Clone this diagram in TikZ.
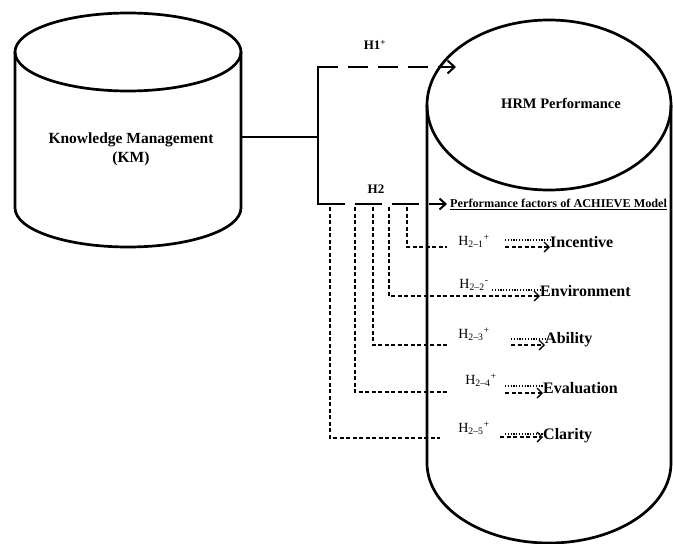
\documentclass[tikz,border=0pt]{standalone}
\usepackage{fontspec}
\setmainfont{Liberation Serif}
\usetikzlibrary{arrows.meta}

\tikzset{
  thickline/.style={line width=2.7pt},
  bigdash/.style={line width=2.7pt, dash pattern=on 20pt off 10pt},
  smalldash/.style={line width=1.4pt, dash pattern=on 4pt off 2.5pt},
  dotline/.style={line width=1.1pt, dash pattern=on 1.2pt off 1.6pt},
  lbl/.style={font=\bfseries, inner sep=0pt},
  hyp/.style={font=\fontsize{14}{16}\selectfont, inner sep=0pt},
  fac/.style={font=\fontsize{16}{18}\selectfont\bfseries, inner sep=0pt, anchor=west}
}

\begin{document}
\begin{tikzpicture}[x=1pt, y=-1pt]

  \useasboundingbox (0, 0) rectangle (673, 544);

  % Knowledge Management cylinder
  \draw [thickline] (128, 52) ellipse [x radius=113pt, y radius=39pt];
  \draw [thickline] (15, 52) -- (15, 208) arc [start angle=180, end angle=360, x radius=113pt, y radius=39pt] -- (241, 52);
  \node[lbl, align=center, font=\fontsize{15.5}{19}\selectfont\bfseries] (km) at (131, 149) {Knowledge Management\\(KM)};

  % HRM Performance cylinder
  \draw [thickline] (549, 105) ellipse [x radius=122pt, y radius=85pt];
  \draw [thickline] (427, 105) -- (427, 463) arc [start angle=180, end angle=360, x radius=122pt, y radius=80pt] -- (671, 105);
  \node[lbl, font=\fontsize{14.5}{16}\selectfont\bfseries] (hrm) at (561, 103) {HRM Performance};

  % bracket
  \coordinate (kmR) at (241, 137);
  \coordinate (brM) at (318, 137);
  \coordinate (brT) at (318, 67);
  \coordinate (brB) at (318, 204);
  \coordinate (h1end) at (456, 67);
  \draw [thickline] (kmR) -- (brM);
  \draw [thickline, line cap=rect] (brT) -- (brB);
  \draw [bigdash, -{Straight Barb[length=7pt, width=13pt, line width=2pt]}] (brT) -- (h1end);
  \node[lbl, font=\fontsize{13}{15}\selectfont\bfseries] (h1) at (375, 45) {H1\textsuperscript{+}};
  \node[lbl, font=\fontsize{13}{15}\selectfont\bfseries] (h2) at (376, 189) {H2};

  \node[lbl, anchor=west] (pf) at (450, 204) {\scalebox{1.02}[1]{\fontsize{12}{14}\selectfont\underline{Performance factors of ACHIEVE Model}}};
  \draw [line width=2.7pt, dash pattern=on 27pt off 10pt, -{Straight Barb[length=6pt, width=11pt, line width=2pt]}] (brB) -- ([xshift=-3pt]pf.west);

  % factors
  \node[fac] (inc) at (550, 242) {Incentive};
  \node[fac] (env) at (540, 291) {Environment};
  \node[fac] (abl) at (545, 340) {Ability};
  \node[fac] (evl) at (543, 388) {Evaluation};
  \node[fac] (clr) at (543, 436) {Clarity};

  \node[hyp] (h21) at (474, 241) {H\textsubscript{2--1}\textsuperscript{+}};
  \node[hyp] (h22) at (474, 285) {H\textsubscript{2--2}\textsuperscript{-}};
  \node[hyp] (h23) at (474, 334) {H\textsubscript{2--3}\textsuperscript{+}};
  \node[hyp] (h24) at (481, 380) {H\textsubscript{2--4}\textsuperscript{+}};
  \node[hyp] (h25) at (474, 428) {H\textsubscript{2--5}\textsuperscript{+}};

  % dashed L-lines from H2 branch
  \foreach \xv/\yv/\xe in {407/247/447, 373/345/448, 355/392/448, 330/438/440}
    \draw [smalldash] (\xv, 207) -- (\xv, \yv) -- (\xe, \yv);
  \draw [smalldash, -{Straight Barb[length=5pt, width=10pt, line width=1.4pt]}] (389, 207) -- (389, 296) -- ([yshift=-5pt]env.west);

  % short arrows to factors
  \draw [smalldash, -{Straight Barb[length=5pt, width=10pt, line width=1.4pt]}] (505, 247) -- ([yshift=-5pt]inc.west);
  \draw [dotline] (505, 240) -- ([yshift=2pt]inc.west);
  \draw [dotline] (492, 290) -- ([yshift=1pt]env.west);
  \draw [smalldash, -{Straight Barb[length=5pt, width=10pt, line width=1.4pt]}] (511, 345) -- ([yshift=-5pt]abl.west);
  \draw [dotline] (511, 339) -- ([yshift=1pt]abl.west);
  \draw [smalldash, -{Straight Barb[length=5pt, width=10pt, line width=1.4pt]}] (505, 393) -- ([yshift=-5pt]evl.west);
  \draw [dotline] (505, 386) -- ([yshift=2pt]evl.west);
  \draw [smalldash, -{Straight Barb[length=5pt, width=10pt, line width=1.4pt]}] (500, 437) -- ([yshift=-1pt]clr.west);
  \draw [dotline] (505, 434) -- ([yshift=2pt]clr.west);

\end{tikzpicture}
\end{document}
